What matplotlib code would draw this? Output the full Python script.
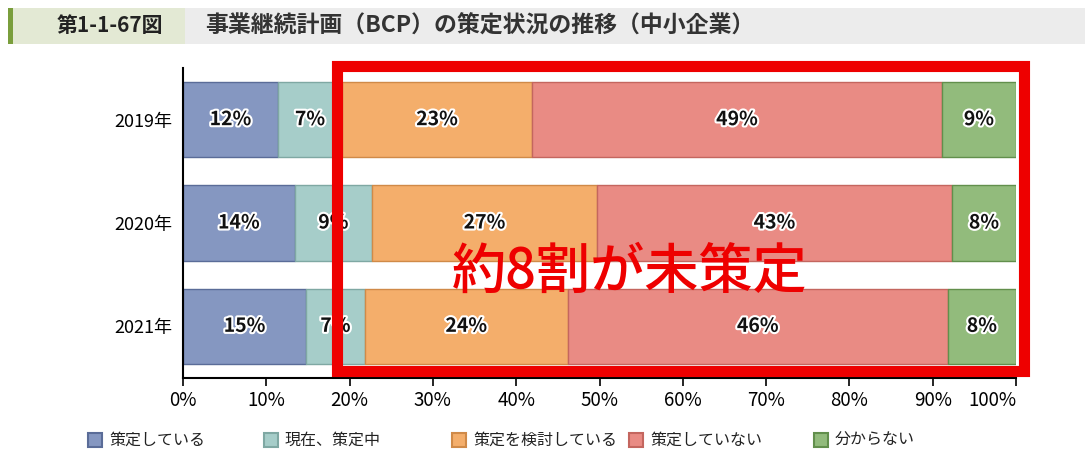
import numpy as np
import matplotlib
matplotlib.use('Agg')
from matplotlib import pyplot as plt
from matplotlib import patheffects as pe
from matplotlib.patches import Rectangle

plt.rcParams['font.family'] = ['Noto Sans CJK JP', 'DejaVu Sans']

years = ['2019年', '2020年', '2021年']
categories = ['策定している', '現在、策定中', '策定を検討している', '策定していない', '分からない']
# shares (%), labels as printed
shares = {
    '策定している':       [11.4, 13.4, 14.8],
    '現在、策定中':       [7.7, 9.3, 7.0],
    '策定を検討している': [22.8, 27.0, 24.4],
    '策定していない':     [49.2, 42.6, 45.6],
    '分からない':         [8.9, 7.7, 8.2],
}
labels = {
    '策定している':       ['12%', '14%', '15%'],
    '現在、策定中':       ['7%', '9%', '7%'],
    '策定を検討している': ['23%', '27%', '24%'],
    '策定していない':     ['49%', '43%', '46%'],
    '分からない':         ['9%', '8%', '8%'],
}
fig_no = '第1-1-67図'
title = '事業継続計画（BCP）の策定状況の推移（中小企業）'
callout = '約8割が未策定'

colors = ['#8597c1', '#a6cdc9', '#f4ae6b', '#e98b84', '#92bb7c']
edges = ['#5a6c98', '#7fa8a3', '#d08a48', '#c4665f', '#628f4c']

W, H = 1085, 455
fig = plt.figure(figsize=(W / 100, H / 100), dpi=100)

# header band
hdr = fig.add_axes([0, 0, 1, 1])
hdr.set_xlim(0, W)
hdr.set_ylim(H, 0)
hdr.axis('off')
hdr.add_patch(Rectangle((185, 8), W - 185, 36, color='#ececec', lw=0))
hdr.add_patch(Rectangle((13, 8), 172, 36, color='#e3e9d4', lw=0))
hdr.add_patch(Rectangle((8, 8), 5, 36, color='#7a9e3c', lw=0))
hdr.text(110, 26, fig_no, fontsize=15, fontweight='bold', ha='center', va='center', color='#222222')
hdr.text(205, 26, title, fontsize=16.5, fontweight='bold', ha='left', va='center', color='#333333')

# chart
ax = fig.add_axes([183 / W, 1 - 378 / H, (1016 - 183) / W, (378 - 68) / H])
y = np.arange(len(years))
left = np.zeros(len(years))
for i, cat in enumerate(categories):
    vals = np.array(shares[cat])
    ax.barh(y, vals, left=left, height=0.73, color=colors[i], edgecolor=edges[i], linewidth=1)
    for j in range(len(years)):
        t = ax.text(left[j] + vals[j] / 2, y[j], labels[cat][j], ha='center', va='center',
                    fontsize=14, fontweight='bold', color='#111111')
        t.set_path_effects([pe.withStroke(linewidth=3, foreground='white')])
    left += vals

ax.set_xlim(0, 100)
ax.set_ylim(2.5, -0.5)
ax.set_yticks(y)
ax.set_yticklabels(years, fontsize=13)
ax.tick_params(axis='y', length=0, pad=8)
ax.set_xticks(np.arange(0, 101, 10))
ax.set_xticklabels([f'{v}%' for v in range(0, 101, 10)], fontsize=13.5)
ax.get_xticklabels()[-1].set_horizontalalignment('right')
ax.tick_params(axis='x', length=6, width=1.2, direction='out', pad=3)
for s in ['top', 'right']:
    ax.spines[s].set_visible(False)
ax.spines['left'].set_linewidth(1.5)
ax.spines['bottom'].set_linewidth(1.5)

# overlay for legend and red callout
ov = fig.add_axes([0, 0, 1, 1])
ov.set_xlim(0, W)
ov.set_ylim(H, 0)
ov.axis('off')
ov.patch.set_alpha(0)

leg_x = [88, 264, 452, 629, 814]
for i, cat in enumerate(categories):
    ov.add_patch(Rectangle((leg_x[i], 433), 14, 14, facecolor=colors[i], edgecolor=edges[i], lw=1.5))
    ov.text(leg_x[i] + 21, 440, cat, fontsize=11.5, ha='left', va='center', color='#222222')

ov.add_patch(Rectangle((337, 66), 1024 - 337, 371 - 66, fill=False, edgecolor='#ee0000', lw=8))
ov.text(630, 272, callout, fontsize=39, color='#ee0000', ha='center', va='center', fontweight='medium')

fig.savefig('out.png', dpi=100)
